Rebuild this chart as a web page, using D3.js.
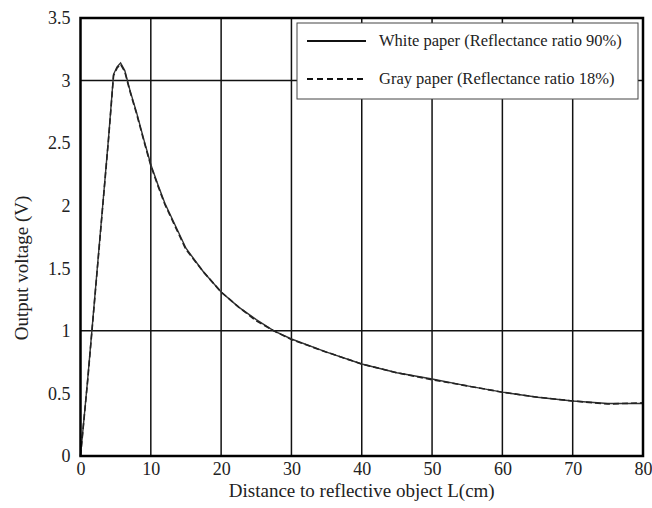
<!DOCTYPE html>
<html>
<head>
<meta charset="utf-8">
<title>Output voltage vs distance</title>
<script src="https://d3js.org/d3.v7.min.js"></script>
<style>
  body { margin: 0; background: #fff; }
  svg { display: block; }
  text { font-family: "Liberation Serif", "Times New Roman", serif; fill: #222; }
</style>
</head>
<body>
<div id="chart"></div>
<script>
// distance to object (cm)
var distance = [0, 1, 2, 3, 4, 4.7, 5.2, 5.7, 6.3, 7, 8, 9, 10, 11, 12, 13, 15, 17.5, 20, 22.5, 25, 27.5, 30, 35, 40, 45, 50, 55, 60, 65, 70, 75, 80];
// output voltage (V)
var whitePaper = [0, 0.6, 1.25, 1.9, 2.55, 3.05, 3.11, 3.14, 3.08, 2.93, 2.74, 2.53, 2.33, 2.17, 2.02, 1.9, 1.66, 1.47, 1.31, 1.19, 1.09, 1.0, 0.935, 0.83, 0.735, 0.665, 0.615, 0.56, 0.51, 0.47, 0.44, 0.42, 0.42];
var grayPaper  = [0, 0.59, 1.24, 1.89, 2.54, 3.04, 3.1, 3.13, 3.07, 2.92, 2.73, 2.52, 2.32, 2.16, 2.01, 1.89, 1.65, 1.47, 1.31, 1.19, 1.08, 1.0, 0.93, 0.83, 0.735, 0.665, 0.61, 0.56, 0.51, 0.47, 0.44, 0.415, 0.425];
var xTicks = [0, 10, 20, 30, 40, 50, 60, 70, 80];
var yTicks = [0, 0.5, 1, 1.5, 2, 2.5, 3, 3.5];
var yGrid = [1, 3];
var xGrid = [10, 20, 30, 40, 50, 60, 70];
var seriesNames = ["White paper (Reflectance ratio 90%)", "Gray paper (Reflectance ratio 18%)"];

var W = 652, H = 508;
var margin = {top: 18, right: 9, bottom: 52, left: 80.5};

var svg = d3.select("#chart").append("svg")
    .attr("width", W)
    .attr("height", H);

var x = d3.scaleLinear().domain([0, 80]).range([margin.left, W - margin.right]);
var y = d3.scaleLinear().domain([0, 3.5]).range([H - margin.bottom, margin.top]);

// grid
svg.append("g").selectAll("line.vg")
    .data(xGrid).enter().append("line")
    .attr("x1", function(d) { return x(d); })
    .attr("x2", function(d) { return x(d); })
    .attr("y1", y(0)).attr("y2", y(3.5))
    .attr("stroke", "#111").attr("stroke-width", 1.5);
svg.append("g").selectAll("line.hg")
    .data(yGrid).enter().append("line")
    .attr("x1", x(0)).attr("x2", x(80))
    .attr("y1", function(d) { return y(d); })
    .attr("y2", function(d) { return y(d); })
    .attr("stroke", "#111").attr("stroke-width", 1.5);

// axes labels (no tick marks)
var xAxis = svg.append("g")
    .attr("transform", "translate(0," + y(0) + ")")
    .call(d3.axisBottom(x).tickValues(xTicks).tickSize(0).tickPadding(6).tickFormat(d3.format("d")));
xAxis.select(".domain").remove();
xAxis.selectAll("text").style("font-size", "18px").attr("font-family", "Liberation Serif").attr("fill", "#222");

var yAxis = svg.append("g")
    .attr("transform", "translate(" + x(0) + ",0)")
    .call(d3.axisLeft(y).tickValues(yTicks).tickSize(0).tickPadding(10).tickFormat(function(d) { return String(d); }));
yAxis.select(".domain").remove();
yAxis.selectAll("text").style("font-size", "18px").attr("font-family", "Liberation Serif").attr("fill", "#222");

// curves
var line = d3.line()
    .x(function(d) { return x(d[0]); })
    .y(function(d) { return y(d[1]); });

svg.append("path")
    .datum(d3.zip(distance, whitePaper))
    .attr("d", line)
    .attr("fill", "none")
    .attr("stroke", "#333")
    .attr("stroke-width", 1.4);
svg.append("path")
    .datum(d3.zip(distance, grayPaper))
    .attr("d", line)
    .attr("fill", "none")
    .attr("stroke", "#222")
    .attr("stroke-width", 1.6)
    .attr("stroke-dasharray", "6,3");

// frame
svg.append("rect")
    .attr("x", x(0)).attr("y", y(3.5))
    .attr("width", x(80) - x(0)).attr("height", y(0) - y(3.5))
    .attr("fill", "none").attr("stroke", "#000").attr("stroke-width", 2.5);

// legend
var lg = svg.append("g");
lg.append("rect")
    .attr("x", 297).attr("y", 23)
    .attr("width", 341).attr("height", 76)
    .attr("fill", "#fff").attr("stroke", "#444").attr("stroke-width", 1);
var legendRows = [{name: seriesNames[0], dash: null, yy: 41}, {name: seriesNames[1], dash: "6,4", yy: 79}];
legendRows.forEach(function(r) {
    lg.append("line")
        .attr("x1", 307).attr("x2", 366)
        .attr("y1", r.yy).attr("y2", r.yy)
        .attr("stroke", "#111").attr("stroke-width", 1.8)
        .attr("stroke-dasharray", r.dash);
    lg.append("text")
        .attr("x", 379).attr("y", r.yy + 5)
        .style("font-size", "16.5px")
        .text(r.name);
});

// axis titles
svg.append("text")
    .attr("x", (x(0) + x(80)) / 2)
    .attr("y", 497)
    .style("text-anchor", "middle")
    .style("font-size", "19px")
    .text("Distance to reflective object L(cm)");

svg.append("text")
    .attr("transform", "translate(28," + 268 + ")rotate(-90)")
    .style("text-anchor", "middle")
    .style("font-size", "19px")
    .text("Output voltage (V)");
</script>
</body>
</html>
